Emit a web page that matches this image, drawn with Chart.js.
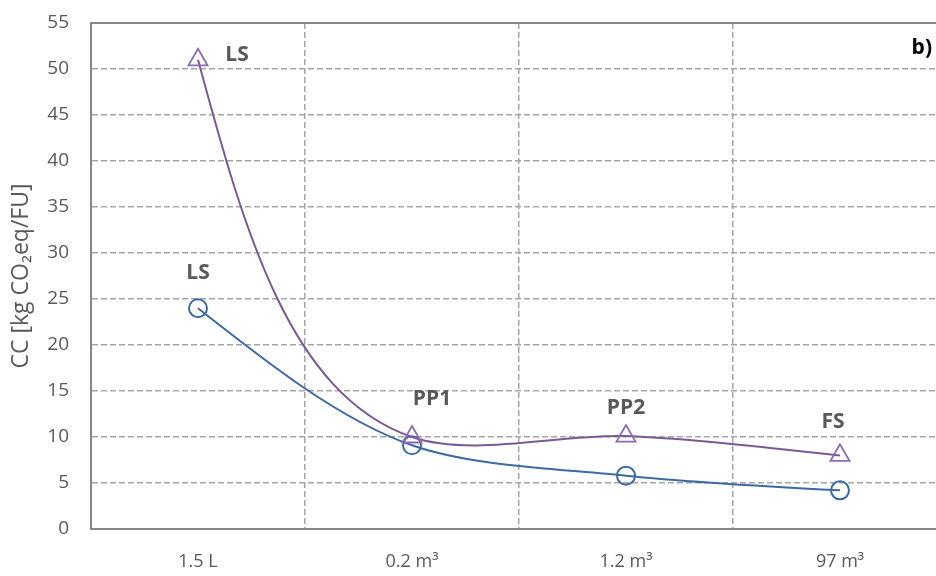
<!DOCTYPE html>
<html>
<head>
<meta charset="utf-8">
<script src="https://cdn.jsdelivr.net/npm/chart.js@4.4.1/dist/chart.umd.min.js"></script>
<style>
  html, body { margin: 0; padding: 0; overflow: hidden; background: #fff; }
</style>
</head>
<body>
<canvas id="ccChart" width="948" height="576"></canvas>
<script>
// chart data
const categories = ['1.5 L', '0.2 m³', '1.2 m³', '97 m³'];
const triangleValues = [51.0, 10.0, 10.1, 8.0];
const circleValues = [24.0, 9.1, 5.8, 4.2];
const pointLabels = ['LS', 'PP1', 'PP2', 'FS'];
const yTicks = { min: 0, max: 55, step: 5 };

const gridGray = '#a5a5a5';
const axisGray = '#878787';
const textGray = '#595959';

// Excel-like smoothing: tangent weighted by inverse squared segment length,
// natural (zero curvature) ends
const smoothPlugin = {
  id: 'excelSmooth',
  beforeDatasetDraw(chart, args) {
    const line = args.meta.dataset;
    const pts = args.meta.data;
    const n = pts.length;
    if (n < 3) return;
    line.updateControlPoints(chart.chartArea, 'x');
    const k = 0.3;
    for (let i = 1; i < n - 1; i++) {
      const p0 = pts[i - 1], p1 = pts[i], p2 = pts[i + 1];
      const ax = p1.x - p0.x, ay = p1.y - p0.y, da = Math.hypot(ax, ay);
      const bx = p2.x - p1.x, by = p2.y - p1.y, db = Math.hypot(bx, by);
      let ux = ax / (da * da) + bx / (db * db);
      let uy = ay / (da * da) + by / (db * db);
      const ul = Math.hypot(ux, uy);
      ux /= ul; uy /= ul;
      p1.cp1x = p1.x - ux * k * da; p1.cp1y = p1.y - uy * k * da;
      p1.cp2x = p1.x + ux * k * db; p1.cp2y = p1.y + uy * k * db;
    }
    const a = pts[0], b = pts[1];
    a.cp2x = (a.x + b.cp1x) / 2; a.cp2y = (a.y + b.cp1y) / 2;
    const z = pts[n - 1], y = pts[n - 2];
    z.cp1x = (z.x + y.cp2x) / 2; z.cp1y = (z.y + y.cp2y) / 2;
    line._path = undefined;
  }
};

// text labels next to the points (offsets in px from the point)
const labelPlugin = {
  id: 'pointText',
  afterDatasetsDraw(chart) {
    const ctx = chart.ctx;
    const xs = chart.scales.x, ys = chart.scales.y;
    ctx.save();
    ctx.font = 'bold 21px "Open Sans"';
    ctx.fillStyle = textGray;
    ctx.textAlign = 'center';
    ctx.textBaseline = 'middle';
    ctx.fillText(pointLabels[0], xs.getPixelForValue(0) + 39, ys.getPixelForValue(triangleValues[0]) - 5);
    ctx.fillText(pointLabels[0], xs.getPixelForValue(0), ys.getPixelForValue(circleValues[0]) - 35);
    ctx.fillText(pointLabels[1], xs.getPixelForValue(1) + 20, ys.getPixelForValue(triangleValues[1]) - 38);
    ctx.fillText(pointLabels[2], xs.getPixelForValue(2), ys.getPixelForValue(triangleValues[2]) - 28);
    ctx.fillText(pointLabels[3], xs.getPixelForValue(3) - 7, ys.getPixelForValue(triangleValues[3]) - 33);

    // panel letter
    ctx.fillStyle = '#000';
    ctx.textAlign = 'right';
    ctx.fillText('b)', 932, 48);

    // solid top border of plot
    const a = chart.chartArea;
    ctx.strokeStyle = axisGray;
    ctx.lineWidth = 2;
    ctx.beginPath();
    ctx.moveTo(a.left - 1, a.top);
    ctx.lineTo(a.right, a.top);
    ctx.stroke();
    ctx.restore();
  }
};

const ctx = document.getElementById('ccChart').getContext('2d');
new Chart(ctx, {
  type: 'line',
  data: {
    labels: categories,
    datasets: [
      {
        label: 'triangles',
        data: triangleValues,
        borderColor: '#7a5a96',
        borderWidth: 2,
        pointStyle: 'triangle',
        pointRadius: 11,
        pointBorderWidth: 1.8,
        pointBorderColor: '#8c6bb1',
        pointBackgroundColor: 'rgba(0,0,0,0)',
        tension: 0.4,
        fill: false
      },
      {
        label: 'circles',
        data: circleValues,
        borderColor: '#3c6aa2',
        borderWidth: 2,
        pointStyle: 'circle',
        pointRadius: 9,
        pointBorderWidth: 2,
        pointBorderColor: '#3c6aa2',
        pointBackgroundColor: 'rgba(0,0,0,0)',
        tension: 0.4,
        fill: false
      }
    ]
  },
  options: {
    responsive: false,
    animation: false,
    layout: { autoPadding: false, padding: { top: 23, right: 1, left: 0, bottom: 0 } },
    plugins: {
      legend: { display: false },
      tooltip: { enabled: false }
    },
    scales: {
      x: {
        offset: true,
        grid: { offset: true, color: gridGray, lineWidth: 1.5, drawTicks: false },
        border: { display: true, color: axisGray, width: 2, dash: [6, 3] },
        ticks: { color: textGray, font: { family: 'Open Sans', size: 18 }, padding: 22 },
        afterFit(scale) {
          scale.height = 47;
          scale.paddingLeft = 0;
          scale.paddingRight = 0;
        }
      },
      y: {
        min: yTicks.min,
        max: yTicks.max,
        grid: { color: gridGray, lineWidth: 1.5, drawTicks: false },
        border: { display: true, color: axisGray, width: 2, dash: [6, 3] },
        ticks: {
          stepSize: yTicks.step,
          color: textGray,
          font: { family: 'Open Sans', size: 19 },
          padding: 22
        },
        title: {
          display: true,
          text: 'CC [kg CO₂eq/FU]',
          color: textGray,
          font: { family: 'Open Sans', size: 23 },
          padding: { top: 8, bottom: 0 }
        },
        afterFit(scale) {
          scale.width = 91;
          scale.paddingTop = 0;
          scale.paddingBottom = 0;
        }
      }
    }
  },
  plugins: [smoothPlugin, labelPlugin]
});
</script>
</body>
</html>
